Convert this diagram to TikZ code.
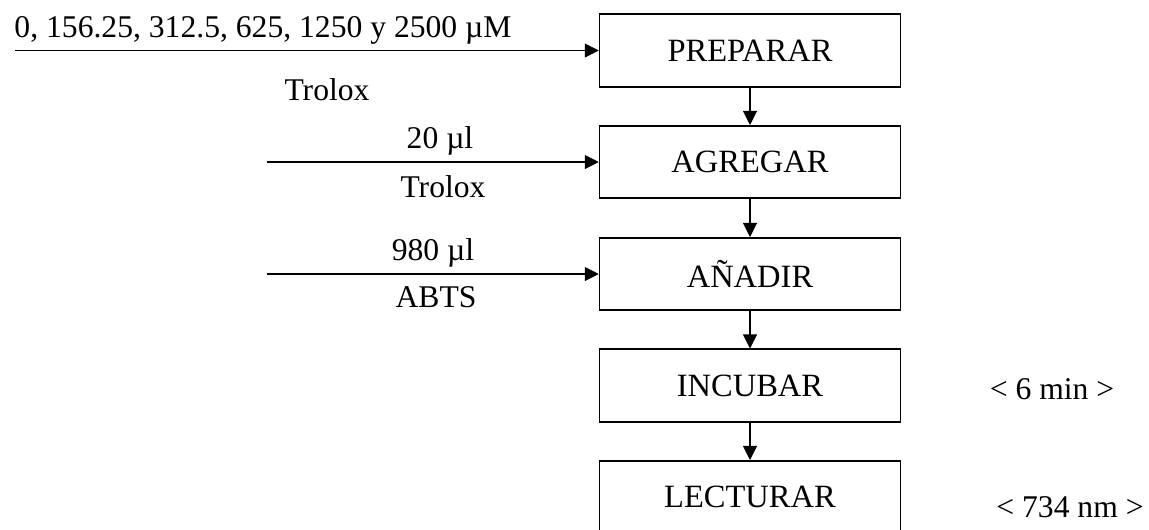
\documentclass[tikz,border=0pt]{standalone}
\usepackage{fontspec}
\setmainfont{Liberation Serif}
\usepackage{tikz}
\usetikzlibrary{arrows.meta,positioning}
\tikzset{
    stage/.style={rectangle, draw=black, line width=0.9pt,
        minimum width=6.02cm, minimum height=1.45cm, align=center,
        font=\fontsize{18.5}{21}\selectfont},
    note/.style={anchor=base, inner sep=0pt, font=\fontsize{18}{21}\selectfont},
    flow/.style={-{Triangle[length=2.8mm,width=2.8mm]}, line width=0.6pt, draw=black}
}

\begin{document}
\begin{tikzpicture}[x=0.02cm,y=-0.02cm]
        \useasboundingbox (0,0) rectangle (1149,529);
        \node[stage] at (750,50.5) (prep) {PREPARAR};
        \node[stage] at (750,162) (agre) {AGREGAR};
        \node[stage] at (750,274) (anad) {AÑADIR};
        \node[stage] at (750,385.5) (incu) {INCUBAR};
        \node[stage] at (750,497) (lect) {LECTURAR};
        \coordinate (in1) at (15,50.5);
        \coordinate (in2) at (267,162);
        \coordinate (in3) at (267,274);
        \node[note] at (263,37) (conc) {0, 156.25, 312.5, 625, 1250 y 2500 µM};
        \node[note] at (327,100) (trolox1) {Trolox};
        \node[note] at (440,148) (vol1) {20 µl};
        \node[note] at (443,197) (trolox2) {Trolox};
        \node[note] at (433,260) (vol2) {980 µl};
        \node[note] at (436,307) (abts) {ABTS};
        \node[note] at (1052,399) (tiempo) {< 6 min >};
        \node[note] at (1070,517) (onda) {< 734 nm >};
        \draw[flow] (in1) -- (prep);
        \draw[flow] (in2) -- (agre);
        \draw[flow] (in3) -- (anad);
        \draw[flow] (prep) -- (agre);
        \draw[flow] (agre) -- (anad);
        \draw[flow] (anad) -- (incu);
        \draw[flow] (incu) -- (lect);
    \end{tikzpicture}
\end{document}
